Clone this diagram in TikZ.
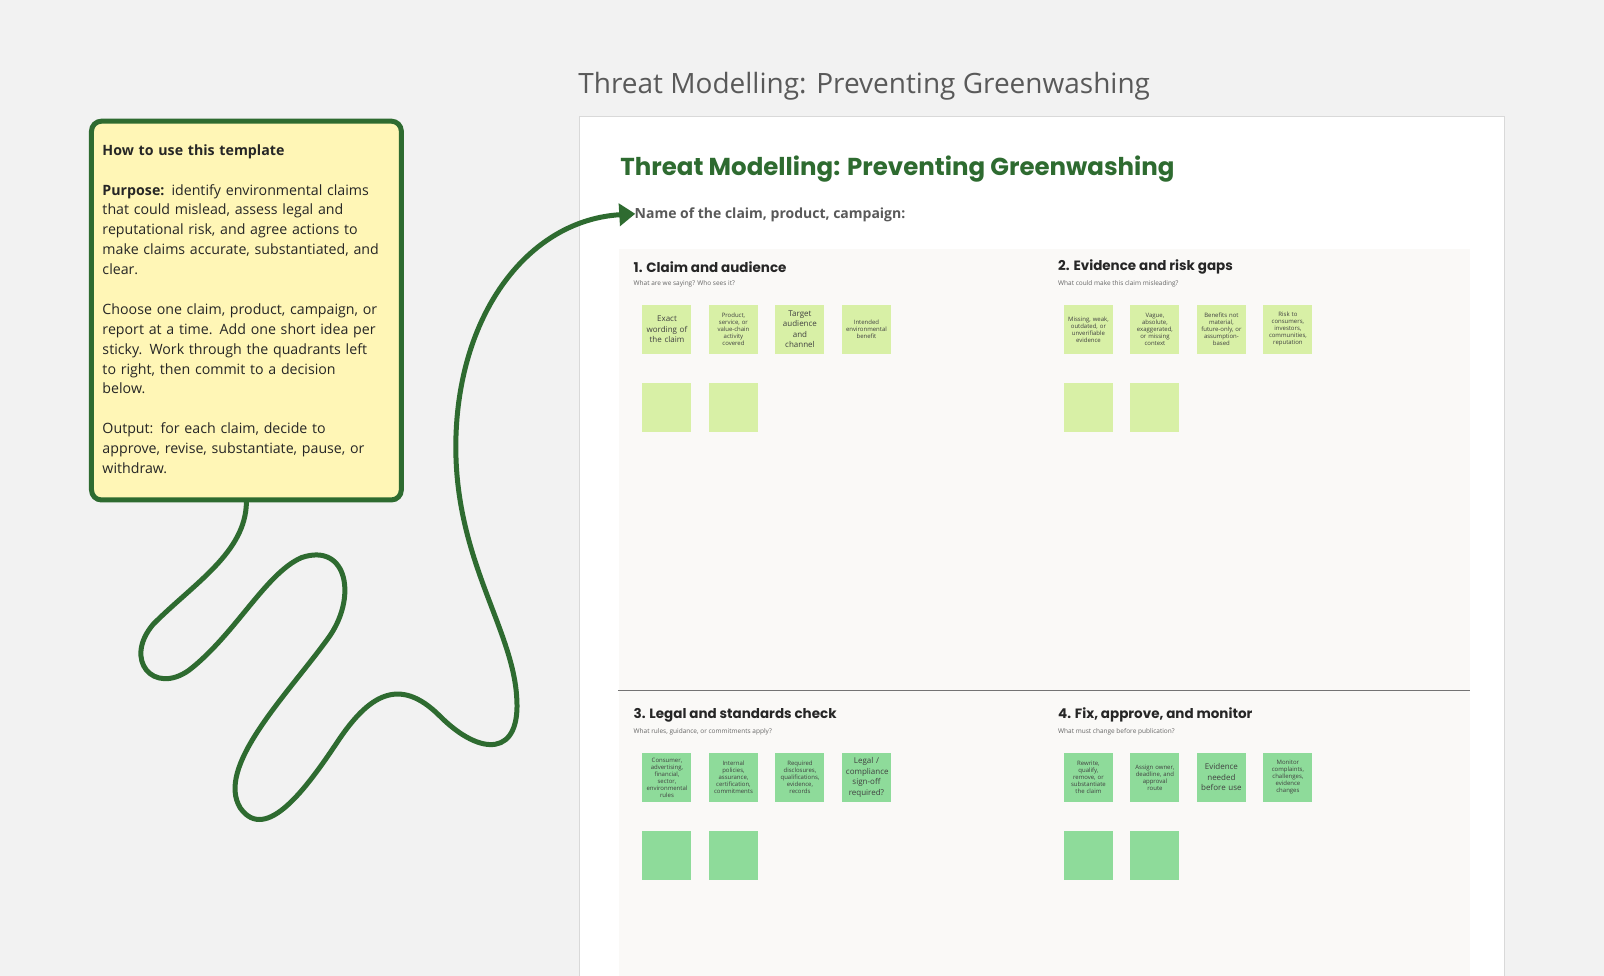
\documentclass[tikz,border=0pt]{standalone}
\usepackage{fontspec}
\setmainfont{Open Sans}
\newfontfamily\headfont{Poppins}
\usetikzlibrary{arrows.meta}
\definecolor{bggray}{HTML}{F2F2F2}
\definecolor{darkgreen}{HTML}{2E6B30}
\definecolor{notelime}{HTML}{D8F0A6}
\definecolor{notegreen}{HTML}{8EDB9A}
\definecolor{notepad}{HTML}{FFF6B6}
\definecolor{quadfill}{HTML}{FAF9F7}
\hyphenpenalty=10000
\tikzset{
  note/.style={minimum width=49pt, minimum height=49pt, inner sep=1pt, align=center,
    text width=41pt, font=\fontsize{6}{7}\selectfont, text=black!75},
  bignote/.style={font=\fontsize{8}{10.5}\selectfont},
  lime/.style={note, fill=notelime},
  mint/.style={note, fill=notegreen},
  qtitle/.style={anchor=west, font=\headfont\bfseries\fontsize{13.5}{15}\selectfont, text=black!85},
  qsub/.style={anchor=west, font=\fontsize{6.5}{8}\selectfont, text=black!60},
}
\begin{document}
\begin{tikzpicture}[x=1.0235pt,y=-1.0235pt]
		\fill[bggray] (0,0) rectangle (1568,954);
		\useasboundingbox (0,0) rectangle (1568,954);
		%%%%%%%%%%%%%
		\node[anchor=west, text=black!65, font=\fontsize{28}{32}\selectfont] (title) at (562,84) {Threat Modelling: Preventing Greenwashing};
		\filldraw[fill=white, draw=black!15] (566,114) rectangle (1470,970);
		\fill[quadfill] (605,243) rectangle (1437,970);
		\draw[black!55, thick] (604,675) -- (1437,675);
		\node[anchor=west, text=darkgreen, font=\headfont\bfseries\fontsize{24.5}{28}\selectfont] (head) at (603,165) {Threat Modelling: Preventing Greenwashing};
		\node[anchor=west, text=black!65, font=\bfseries\fontsize{14}{16}\selectfont] (name) at (617,210) {Name of the claim, product, campaign:};
		%%%%%%%%%%%%%
		\node[qtitle] (q1) at (616,261) {1. Claim and audience};
		\node[qsub] at (616,277) {What are we saying? Who sees it?};
		\node[qtitle] (q2) at (1031,261) {2. Evidence and risk gaps};
		\node[qsub] at (1031,277) {What could make this claim misleading?};
		\node[qtitle] (q3) at (616,699) {3. Legal and standards check};
		\node[qsub] at (616,715) {What rules, guidance, or commitments apply?};
		\node[qtitle] (q4) at (1031,699) {4. Fix, approve, and monitor};
		\node[qsub] at (1031,715) {What must change before publication?};
		%%%%%%%%%%%%%
		\node[lime, bignote] (a1) at (652,322) {Exact wording of the claim};
		\node[lime] (a2) at (717,322) {Product, service, or value-chain activity covered};
		\node[lime, bignote] (a3) at (782,322) {Target audience and channel};
		\node[lime] (a4) at (847,322) {Intended environmental benefit};
		\node[lime] (a5) at (652,398) {};
		\node[lime] (a6) at (717,398) {};
		\node[lime] (b1) at (1064,322) {Missing, weak, outdated, or unverifiable evidence};
		\node[lime] (b2) at (1129,322) {Vague, absolute, exaggerated, or missing context};
		\node[lime] (b3) at (1194,322) {Benefits not material, future-only, or assumption-based};
		\node[lime] (b4) at (1259,322) {Risk to consumers, investors, communities, reputation};
		\node[lime] (b5) at (1064,398) {};
		\node[lime] (b6) at (1129,398) {};
		\node[mint] (c1) at (652,760) {Consumer, advertising, financial, sector, environmental rules};
		\node[mint] (c2) at (717,760) {Internal policies, assurance, certification, commitments};
		\node[mint] (c3) at (782,760) {Required disclosures, qualifications, evidence, records};
		\node[mint, bignote] (c4) at (847,760) {Legal / compliance sign-off required?};
		\node[mint] (c5) at (652,836) {};
		\node[mint] (c6) at (717,836) {};
		\node[mint] (d1) at (1064,760) {Rewrite, qualify, remove, or substantiate the claim};
		\node[mint] (d2) at (1129,760) {Assign owner, deadline, and approval route};
		\node[mint, bignote] (d3) at (1194,760) {Evidence needed before use};
		\node[mint] (d4) at (1259,760) {Monitor complaints, challenges, evidence changes};
		\node[mint] (d5) at (1064,836) {};
		\node[mint] (d6) at (1129,836) {};
		%%%%%%%%%%%%%
		\node[draw=darkgreen, line width=5pt, fill=notepad, rounded corners=10pt, anchor=north west,
		  minimum width=310pt, minimum height=379pt] (howto) at (87,116) {};
		\node[anchor=north west, text width=290pt, inner sep=0pt, align=left,
		  font=\fontsize{14.2}{19.9}\selectfont, text=black!85] (howtotext) at (100,141) {%
		  \textbf{How to use this template}\\[19.9pt]
		  \textbf{Purpose:} identify environmental claims\\ that could mislead, assess legal and\\ reputational risk, and agree actions to\\ make claims accurate, substantiated, and\\ clear.\\[19.9pt]
		  Choose one claim, product, campaign, or\\ report at a time. Add one short idea per\\ sticky. Work through the quadrants left\\ to right, then commit to a decision\\ below.\\[19.9pt]
		  Output: for each claim, decide to\\ approve, revise, substantiate, pause, or\\ withdraw.};
		\coordinate (tip) at (621,209);
		\draw[darkgreen, line width=5pt, line cap=round, -{Triangle[length=16pt,width=22pt]}]
		  (howto.south) .. controls (240,540) and (190,570) .. (150,610)
		  .. controls (120,645) and (150,680) .. (185,655)
		  .. controls (230,620) and (260,560) .. (295,545)
		  .. controls (340,530) and (350,585) .. (320,625)
		  .. controls (280,680) and (210,750) .. (235,790)
		  .. controls (260,825) and (300,770) .. (330,725)
		  .. controls (360,680) and (390,660) .. (430,700)
		  .. controls (470,740) and (510,740) .. (505,680)
		  .. controls (500,610) and (440,540) .. (446,420)
		  .. controls (452,300) and (520,215) .. (tip);
	\end{tikzpicture}
\end{document}
